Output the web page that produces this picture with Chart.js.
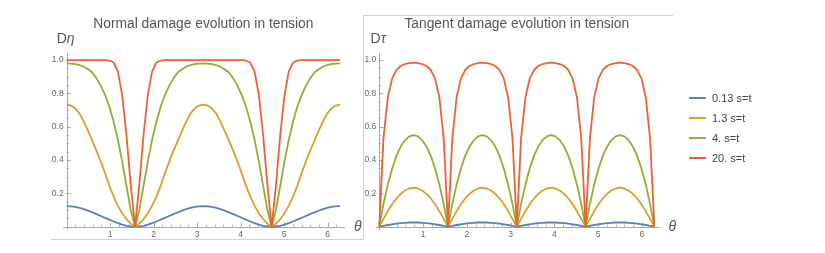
<!DOCTYPE html>
<html>
<head>
<meta charset="utf-8">
<script src="https://cdn.jsdelivr.net/npm/chart.js@4.4.1/dist/chart.umd.min.js"></script>
<style>
  body { margin: 0; width: 825px; height: 253px; overflow: hidden; position: relative; background: #fff;
         font-family: "Liberation Sans", Arial, sans-serif; }
  canvas { position: absolute; top: 0; }
  #c1 { left: 0; }
  #c2 { left: 363px; }
  .rule { position: absolute; background: #cfcfcf; }
  #legend { position: absolute; left: 689px; top: 88px; font-size: 11px; color: #444; }
  #legend div { height: 20px; line-height: 20px; white-space: nowrap; position: relative; padding-left: 23px; }
  #legend span.sw { position: absolute; left: 0; top: 9px; width: 17px; height: 2px; }
</style>
</head>
<body>
<div class="rule" style="left:51px;top:239px;width:312px;height:1px"></div>
<div class="rule" style="left:363px;top:15px;width:1px;height:225px"></div>
<div class="rule" style="left:363px;top:15px;width:310px;height:1px"></div>
<canvas id="c1" width="363" height="253"></canvas>
<canvas id="c2" width="330" height="253"></canvas>
<div id="legend"></div>
<script>
// theta samples, step pi/32 from 0 to 2 pi
const theta = [0,0.098,0.196,0.295,0.393,0.491,0.589,0.687,0.785,0.884,0.982,1.080,1.178,1.276,1.374,1.473,1.571,
  1.669,1.767,1.865,1.963,2.062,2.160,2.258,2.356,2.454,2.553,2.651,2.749,2.847,2.945,3.043,3.142,
  3.240,3.338,3.436,3.534,3.632,3.731,3.829,3.927,4.025,4.123,4.222,4.320,4.418,4.516,4.614,4.712,
  4.811,4.909,5.007,5.105,5.203,5.301,5.400,5.498,5.596,5.694,5.792,5.890,5.989,6.087,6.185,6.283];

const seriesNames = ['0.13 s=t', '1.3 s=t', '4. s=t', '20. s=t'];
const seriesColors = ['#5E81B5', '#E19C24', '#8FB032', '#EB6235'];

// Normal damage D eta
const normal013 = [0.123,0.122,0.119,0.113,0.105,0.096,0.086,0.075,0.064,0.053,0.042,0.031,0.021,0.012,0.005,0.001,0,
  0.001,0.005,0.012,0.021,0.031,0.042,0.053,0.064,0.075,0.086,0.096,0.105,0.113,0.119,0.122,0.123,
  0.122,0.119,0.113,0.105,0.096,0.086,0.075,0.064,0.053,0.042,0.031,0.021,0.012,0.005,0.001,0,
  0.001,0.005,0.012,0.021,0.031,0.042,0.053,0.064,0.075,0.086,0.096,0.105,0.113,0.119,0.122,0.123];
const normal13 = [0.733,0.727,0.71,0.68,0.63,0.575,0.515,0.455,0.39,0.32,0.245,0.18,0.125,0.08,0.045,0.018,0,
  0.018,0.045,0.08,0.125,0.18,0.245,0.32,0.39,0.455,0.515,0.575,0.63,0.68,0.71,0.727,0.733,
  0.727,0.71,0.68,0.63,0.575,0.515,0.455,0.39,0.32,0.245,0.18,0.125,0.08,0.045,0.018,0,
  0.018,0.045,0.08,0.125,0.18,0.245,0.32,0.39,0.455,0.515,0.575,0.63,0.68,0.71,0.727,0.733];
const normal4 = [0.98,0.979,0.976,0.97,0.96,0.945,0.925,0.89,0.845,0.79,0.72,0.63,0.52,0.39,0.245,0.1,0,
  0.1,0.245,0.39,0.52,0.63,0.72,0.79,0.845,0.89,0.925,0.945,0.96,0.97,0.976,0.979,0.98,
  0.979,0.976,0.97,0.96,0.945,0.925,0.89,0.845,0.79,0.72,0.63,0.52,0.39,0.245,0.1,0,
  0.1,0.245,0.39,0.52,0.63,0.72,0.79,0.845,0.89,0.925,0.945,0.96,0.97,0.976,0.979,0.98];
const normal20 = [1,1,1,1,1,1,1,1,1,0.999,0.997,0.985,0.93,0.79,0.55,0.25,0,
  0.25,0.55,0.79,0.93,0.985,0.997,0.999,1,1,1,1,1,1,1,1,1,
  1,1,1,1,1,1,1,1,0.999,0.997,0.985,0.93,0.79,0.55,0.25,0,
  0.25,0.55,0.79,0.93,0.985,0.997,0.999,1,1,1,1,1,1,1,1,1];

// Tangent damage D tau
const tangent013 = [0,0.005,0.01,0.014,0.018,0.021,0.023,0.025,0.025,
  0.025,0.023,0.021,0.018,0.014,0.01,0.005,0,
  0.005,0.01,0.014,0.018,0.021,0.023,0.025,0.025,
  0.025,0.023,0.021,0.018,0.014,0.01,0.005,0,
  0.005,0.01,0.014,0.018,0.021,0.023,0.025,0.025,
  0.025,0.023,0.021,0.018,0.014,0.01,0.005,0,
  0.005,0.01,0.014,0.018,0.021,0.023,0.025,0.025,
  0.025,0.023,0.021,0.018,0.014,0.01,0.005,0];
const tangent13 = [0,0.047,0.092,0.134,0.169,0.197,0.217,0.229,0.234,
  0.229,0.217,0.197,0.169,0.134,0.092,0.047,0,
  0.047,0.092,0.134,0.169,0.197,0.217,0.229,0.234,
  0.229,0.217,0.197,0.169,0.134,0.092,0.047,0,
  0.047,0.092,0.134,0.169,0.197,0.217,0.229,0.234,
  0.229,0.217,0.197,0.169,0.134,0.092,0.047,0,
  0.047,0.092,0.134,0.169,0.197,0.217,0.229,0.234,
  0.229,0.217,0.197,0.169,0.134,0.092,0.047,0];
const tangent4 = [0,0.135,0.252,0.348,0.425,0.481,0.519,0.542,0.55,
  0.542,0.519,0.481,0.425,0.348,0.252,0.135,0,
  0.135,0.252,0.348,0.425,0.481,0.519,0.542,0.55,
  0.542,0.519,0.481,0.425,0.348,0.252,0.135,0,
  0.135,0.252,0.348,0.425,0.481,0.519,0.542,0.55,
  0.542,0.519,0.481,0.425,0.348,0.252,0.135,0,
  0.135,0.252,0.348,0.425,0.481,0.519,0.542,0.55,
  0.542,0.519,0.481,0.425,0.348,0.252,0.135,0];
const tangent20 = [0,0.53,0.775,0.888,0.94,0.964,0.976,0.982,0.984,
  0.982,0.976,0.964,0.94,0.888,0.775,0.53,0,
  0.53,0.775,0.888,0.94,0.964,0.976,0.982,0.984,
  0.982,0.976,0.964,0.94,0.888,0.775,0.53,0,
  0.53,0.775,0.888,0.94,0.964,0.976,0.982,0.984,
  0.982,0.976,0.964,0.94,0.888,0.775,0.53,0,
  0.53,0.775,0.888,0.94,0.964,0.976,0.982,0.984,
  0.982,0.976,0.964,0.94,0.888,0.775,0.53,0];

const xTickValues = [1, 2, 3, 4, 5, 6];
const xTickLabels = ['1', '2', '3', '4', '5', '6'];
const yTickValues = [0.2, 0.4, 0.6, 0.8, 1.0];
const yTickLabels = ['0.2', '0.4', '0.6', '0.8', '1.0'];

const FONT = '"Liberation Sans", Arial, sans-serif';

// mathematica style axes through the origin, ticks pointing inward
const mmaAxes = {
  id: 'mmaAxes',
  beforeDatasetsDraw(chart) {
    const ctx = chart.ctx, xs = chart.scales.x, ys = chart.scales.y;
    const x0 = xs.getPixelForValue(0), y0 = ys.getPixelForValue(0);
    ctx.save();
    ctx.strokeStyle = '#a6a6a6';
    ctx.lineWidth = 1;
    ctx.beginPath();
    ctx.moveTo(xs.left, Math.round(y0) + 0.5); ctx.lineTo(xs.right, Math.round(y0) + 0.5);
    ctx.moveTo(Math.round(x0) + 0.5, ys.bottom); ctx.lineTo(Math.round(x0) + 0.5, ys.top);
    for (let v = 0.2; v < xs.max; v += 0.2) {
      const px = Math.round(xs.getPixelForValue(v)) + 0.5;
      const major = Math.abs(v - Math.round(v)) < 1e-6;
      ctx.moveTo(px, y0); ctx.lineTo(px, y0 - (major ? 4 : 2));
    }
    for (let v = 0.05; v < ys.max; v += 0.05) {
      const py = Math.round(ys.getPixelForValue(v)) + 0.5;
      const major = Math.abs(v * 5 - Math.round(v * 5)) < 1e-6;
      ctx.moveTo(x0, py); ctx.lineTo(x0 + (major ? 4 : 2), py);
    }
    ctx.stroke();

    ctx.fillStyle = '#666';
    ctx.font = '8.5px ' + FONT;
    ctx.textAlign = 'center'; ctx.textBaseline = 'top';
    xTickValues.forEach((v, i) => ctx.fillText(xTickLabels[i], xs.getPixelForValue(v), y0 + 4));
    ctx.textAlign = 'right'; ctx.textBaseline = 'middle';
    yTickValues.forEach((v, i) => ctx.fillText(yTickLabels[i], x0 - 3, ys.getPixelForValue(v)));
    ctx.restore();
  },
  afterDraw(chart, args, opts) {
    const ctx = chart.ctx, xs = chart.scales.x, ys = chart.scales.y;
    const x0 = xs.getPixelForValue(0), y0 = ys.getPixelForValue(0);
    ctx.save();
    ctx.fillStyle = '#555';
    ctx.font = '13.8px ' + FONT;
    ctx.textAlign = 'center'; ctx.textBaseline = 'alphabetic';
    ctx.fillText(opts.title, xs.getPixelForValue(Math.PI), 28.3);

    ctx.font = '14px ' + FONT;
    const wD = ctx.measureText('D').width;
    ctx.font = 'italic 14px ' + FONT;
    const wG = ctx.measureText(opts.yGreek).width;
    const sx = x0 - 1 - (wD + wG) / 2;
    ctx.textAlign = 'left';
    ctx.font = '14px ' + FONT;
    ctx.fillText('D', sx, 43.3);
    ctx.font = 'italic 14px ' + FONT;
    ctx.fillText(opts.yGreek, sx + wD, 43.3);

    ctx.textBaseline = 'middle';
    ctx.fillText('\u03b8', xs.right + 9, y0);
    ctx.restore();
  }
};

function makeChart(id, series, pad, title, yGreek) {
  return new Chart(document.getElementById(id), {
    type: 'line',
    data: {
      datasets: series.map((vals, i) => ({
        label: seriesNames[i],
        data: theta.map((t, j) => ({ x: t, y: vals[j] })),
        borderColor: seriesColors[i],
        borderWidth: 1.8,
        borderJoinStyle: 'round',
        pointRadius: 0,
        tension: 0,
        clip: false,
        order: series.length - 1 - i
      }))
    },
    options: {
      responsive: false,
      animation: false,
      layout: { padding: pad },
      scales: {
        x: { type: 'linear', min: -0.08, max: 6.4, display: false },
        y: { type: 'linear', min: -0.02, max: 1.044, display: false }
      },
      plugins: {
        legend: { display: false },
        tooltip: { enabled: false },
        mmaAxes: { title: title, yGreek: yGreek }
      }
    },
    plugins: [mmaAxes]
  });
}

makeChart('c1', [normal013, normal13, normal4, normal20],
  { left: 63.2, right: 17.9, top: 52.7, bottom: 23 },
  'Normal damage evolution in tension', '\u03b7');
makeChart('c2', [tangent013, tangent13, tangent4, tangent20],
  { left: 12.7, right: 33.5, top: 52.7, bottom: 23 },
  'Tangent damage evolution in tension', '\u03c4');

const legend = document.getElementById('legend');
seriesNames.forEach((name, i) => {
  const row = document.createElement('div');
  const sw = document.createElement('span');
  sw.className = 'sw';
  sw.style.background = seriesColors[i];
  row.appendChild(sw);
  row.appendChild(document.createTextNode(name));
  legend.appendChild(row);
});
</script>
</body>
</html>
